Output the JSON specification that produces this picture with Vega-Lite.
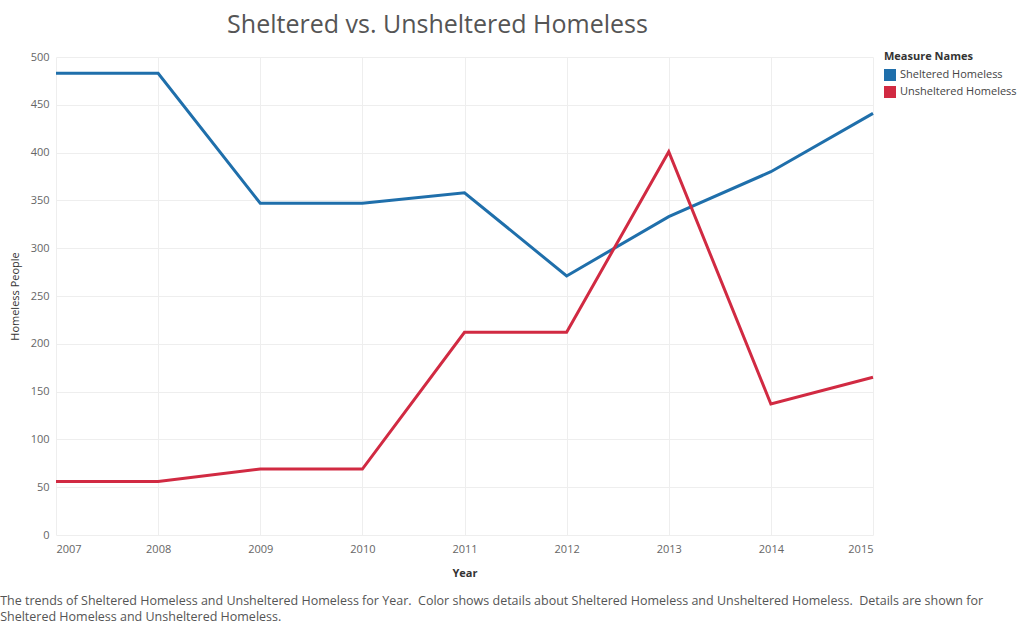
{
  "$schema": "https://vega.github.io/schema/vega-lite/v6.json",
  "background": "white",
  "padding": {"left": 0, "top": 13, "right": 5, "bottom": 0},
  "config": {
    "font": "Open Sans",
    "view": {"stroke": null},
    "concat": {"spacing": 0}
  },
  "title": {
    "text": ["The trends of Sheltered Homeless and Unsheltered Homeless for Year.\u00a0 Color shows details about Sheltered Homeless and Unsheltered Homeless.\u00a0 Details are shown for", "Sheltered Homeless and Unsheltered Homeless."],
    "orient": "bottom",
    "anchor": "start",
    "dx": -9,
    "fontSize": 12.5,
    "fontWeight": "normal",
    "color": "#555555",
    "lineHeight": 16,
    "offset": 17
  },
  "vconcat": [
    {
      "title": {
        "text": "Sheltered vs. Unsheltered Homeless",
        "anchor": "middle",
        "frame": "group",
        "dx": -27,
        "fontSize": 25,
        "fontWeight": "normal",
        "color": "#555555",
        "offset": 13
      },
      "width": 817,
      "height": 478,
      "data": {
        "values": [
          {"Year": 2007, "Measure": "Sheltered Homeless", "Value": 483},
          {"Year": 2008, "Measure": "Sheltered Homeless", "Value": 483},
          {"Year": 2009, "Measure": "Sheltered Homeless", "Value": 347},
          {"Year": 2010, "Measure": "Sheltered Homeless", "Value": 347},
          {"Year": 2011, "Measure": "Sheltered Homeless", "Value": 358},
          {"Year": 2012, "Measure": "Sheltered Homeless", "Value": 271},
          {"Year": 2013, "Measure": "Sheltered Homeless", "Value": 333},
          {"Year": 2014, "Measure": "Sheltered Homeless", "Value": 380},
          {"Year": 2015, "Measure": "Sheltered Homeless", "Value": 441},
          {"Year": 2007, "Measure": "Unsheltered Homeless", "Value": 56},
          {"Year": 2008, "Measure": "Unsheltered Homeless", "Value": 56},
          {"Year": 2009, "Measure": "Unsheltered Homeless", "Value": 69},
          {"Year": 2010, "Measure": "Unsheltered Homeless", "Value": 69},
          {"Year": 2011, "Measure": "Unsheltered Homeless", "Value": 212},
          {"Year": 2012, "Measure": "Unsheltered Homeless", "Value": 212},
          {"Year": 2013, "Measure": "Unsheltered Homeless", "Value": 401},
          {"Year": 2014, "Measure": "Unsheltered Homeless", "Value": 137},
          {"Year": 2015, "Measure": "Unsheltered Homeless", "Value": 165}
        ]
      },
      "mark": {"type": "line", "strokeWidth": 3},
      "encoding": {
        "x": {
          "field": "Year",
          "type": "quantitative",
          "scale": {"domain": [2007, 2015], "nice": false, "zero": false},
          "axis": {
            "values": [2007, 2008, 2009, 2010, 2011, 2012, 2013, 2014, 2015],
            "format": "d",
            "title": "Year",
            "titleFontSize": 11,
            "titleFontWeight": "bold",
            "titleColor": "#333333",
            "titlePadding": 13,
            "labelFontSize": 11,
            "labelColor": "#666666",
            "labelPadding": 8,
            "labelFlush": true,
            "ticks": false,
            "domain": false,
            "grid": true,
            "gridColor": "#eeeeee"
          }
        },
        "y": {
          "field": "Value",
          "type": "quantitative",
          "scale": {"domain": [0, 500], "nice": false},
          "axis": {
            "values": [0, 50, 100, 150, 200, 250, 300, 350, 400, 450, 500],
            "title": "Homeless People",
            "titleFontSize": 11,
            "titleFontWeight": "normal",
            "titleColor": "#333333",
            "titlePadding": 10,
            "labelFontSize": 11,
            "labelColor": "#666666",
            "labelPadding": 7,
            "labelFlush": false,
            "ticks": false,
            "domain": false,
            "grid": true,
            "gridColor": "#eeeeee"
          }
        },
        "color": {
          "field": "Measure",
          "type": "nominal",
          "scale": {
            "domain": ["Sheltered Homeless", "Unsheltered Homeless"],
            "range": ["#1f6fab", "#d12a42"]
          },
          "legend": {
            "title": "Measure Names",
            "orient": "none",
            "legendX": 828,
            "legendY": -6,
            "titleFontSize": 11,
            "titleFontWeight": "bold",
            "titleColor": "#333333",
            "titlePadding": 7,
            "labelFontSize": 11,
            "labelColor": "#444444",
            "symbolType": "square",
            "symbolSize": 144,
            "symbolStrokeWidth": 0,
            "symbolOpacity": 1,
            "rowPadding": 5,
            "symbolOffset": 0,
            "encode": {
              "symbols": {
                "update": {
                  "fill": {"scale": "color", "field": "value"},
                  "fillOpacity": {"value": 1}
                }
              }
            }
          }
        }
      }
    }
  ]
}
